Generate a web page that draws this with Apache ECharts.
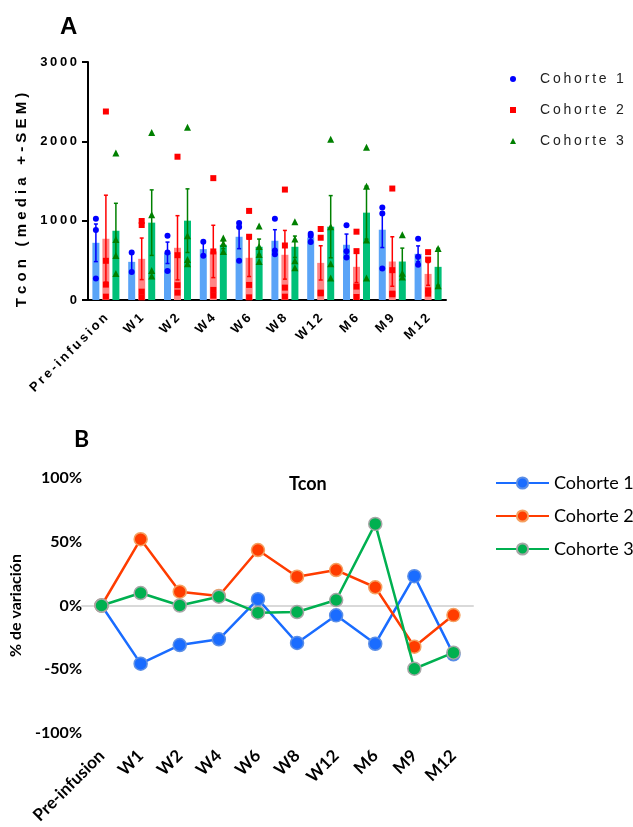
<!DOCTYPE html>
<html>
<head>
<meta charset="utf-8">
<script src="https://cdn.jsdelivr.net/npm/echarts@6/dist/echarts.min.js"></script>
<style>
  html, body { margin: 0; padding: 0; background: #fff; }
  #chartA { position: absolute; left: 0; top: 0; width: 633px; height: 410px; }
  #chartB { position: absolute; left: 0; top: 410px; width: 633px; height: 417px; }
</style>
</head>
<body>
<div id="chartA"></div>
<div id="chartB"></div>
<script>
// categorias (tiempos)
const categories = ['Pre-infusion', 'W1', 'W2', 'W4', 'W6', 'W8', 'W12', 'M6', 'M9', 'M12'];
const cohorts = ['Cohorte 1', 'Cohorte 2', 'Cohorte 3'];

// panel A: media, SEM y puntos individuales
const c1Mean = [721, 481, 595, 641, 797, 747, 789, 696, 886, 582];
const c2Mean = [772, 519, 658, 612, 532, 570, 468, 418, 485, 329];
const c3Mean = [873, 975, 1000, 696, 671, 671, 924, 1101, 485, 418];

const c1Sem = [237, 120, 135, 88, 150, 139, 32, 135, 225, 100];
const c2Sem = [549, 262, 405, 330, 236, 307, 216, 198, 312, 144];
const c3Sem = [346, 413, 401, 50, 97, 135, 392, 334, 169, 232];

const c1Pts = [[1025, 882, 270], [599, 354], [810, 599, 367], [734, 557], [970, 920, 494],
  [1025, 624, 578], [835, 810, 730], [941, 616, 536], [1165, 1089, 397], [772, 544, 443]];
const c2Pts = [[2376, 494, 194, 42], [996, 945, 105, 34], [1806, 565, 186, 93], [1536, 612, 127, 55],
  [1123, 797, 190, 34], [1392, 687, 156, 42], [895, 785, 93, 84], [861, 616, 169, 38],
  [1405, 376, 80, 72], [603, 510, 122, 80]];
const c3Pts = [[1852, 763, 561, 333], [2110, 1076, 371, 304], [2177, 810, 510, 456], [781, 713, 611],
  [933, 675, 574, 485], [987, 768, 494, 405], [2025, 924, 456, 278], [1924, 1435, 755, 278],
  [823, 338, 291], [650, 181]];

const yTicksA = [0, 1000, 2000, 3000];

// panel B: % de variación respecto a pre-infusion
const b1 = [0, -45.6, -31, -26.5, 5, -29.4, -7.7, -30, 23, -38.3];
const b2 = [0, 52, 10.8, 7.5, 43.5, 22.6, 27.8, 14.3, -32.3, -7.5];
const b3 = [0, 9.8, 0, 6.9, -5.6, -5.1, 4.3, 64, -49.6, -37];

const thin = s => s.split('').join('\u2009');
const spaced = s => s.split('').join(' ');
const fontA = '"Liberation Sans", Arial, sans-serif';
const fontB = 'Lato, "Open Sans", sans-serif';

let chartA = echarts.init(document.getElementById('chartA'));
let chartB = echarts.init(document.getElementById('chartB'));

const barColors = ['#5aa4f7', '#ff8585', '#00c078'];
const ptColors = ['#0000ff', '#ff0000', '#008000'];
const ptSymbols = ['circle', 'rect', 'triangle'];
const ptSizes = [6, 6, 7];
const offsets = [-10, 0, 10];
const means = [c1Mean, c2Mean, c3Mean];
const sems = [c1Sem, c2Sem, c3Sem];
const pts = [c1Pts, c2Pts, c3Pts];

function errRender(off, color) {
  return function(params, api) {
    const i = api.value(0);
    const x = api.coord([i, 0])[0] + off;
    const yHi = api.coord([i, api.value(2)])[1];
    const yLo = api.coord([i, api.value(1)])[1];
    const st = { stroke: color, lineWidth: 1.5 };
    return {
      type: 'group',
      children: [
        { type: 'line', shape: { x1: x, y1: yLo, x2: x, y2: yHi }, style: st },
        { type: 'line', shape: { x1: x - 2, y1: yHi, x2: x + 2, y2: yHi }, style: st },
        { type: 'line', shape: { x1: x - 2, y1: yLo, x2: x + 2, y2: yLo }, style: st }
      ]
    };
  };
}

let seriesA = [];
for (let k = 0; k < 3; k++) {
  seriesA.push({
    name: 'bar' + k,
    type: 'bar',
    barWidth: 7,
    barGap: '43%',
    itemStyle: { color: barColors[k] },
    z: 1,
    data: means[k]
  });
}
for (let k = 0; k < 3; k++) {
  seriesA.push({
    name: 'err' + k,
    type: 'custom',
    renderItem: errRender(offsets[k], ptColors[k]),
    z: 3,
    data: means[k].map((m, i) => [i, m - sems[k][i], m + sems[k][i]])
  });
}
for (let k = 0; k < 3; k++) {
  let d = [];
  pts[k].forEach((arr, i) => arr.forEach(v => d.push([i, v])));
  seriesA.push({
    name: cohorts[k],
    type: 'scatter',
    symbol: ptSymbols[k],
    symbolSize: ptSizes[k],
    symbolOffset: [offsets[k], 0],
    itemStyle: { color: ptColors[k], opacity: 1 },
    z: 4,
    data: d
  });
}

let optionA = {
  animation: false,
  title: {
    text: 'A', left: 55, top: 10,
    textStyle: { fontFamily: fontA, fontSize: 24, fontWeight: 'bold', color: '#000' }
  },
  legend: {
    orient: 'vertical', left: 505, top: 67, itemGap: 17,
    itemWidth: 6, itemHeight: 6,
    data: cohorts.map((c, k) => ({ name: c, icon: ptSymbols[k] })),
    formatter: thin,
    textStyle: { fontFamily: fontA, fontSize: 14, color: '#222', padding: [0, 0, 0, 19] }
  },
  grid: { left: 88, top: 62, width: 358, height: 238 },
  xAxis: {
    type: 'category',
    data: categories,
    axisLine: { lineStyle: { color: '#000', width: 2 } },
    axisTick: { alignWithLabel: true, length: 6, lineStyle: { color: '#000', width: 2 } },
    axisLabel: {
      rotate: 45, margin: 16, interval: 0,
      fontFamily: fontA, fontSize: 13, fontWeight: 'bold', color: '#000',
      formatter: thin
    }
  },
  yAxis: {
    type: 'value', min: 0, max: 3000, interval: 1000,
    name: spaced('Tcon (media +-SEM)'),
    nameLocation: 'middle', nameGap: 55,
    nameTextStyle: { fontFamily: fontA, fontSize: 15, fontWeight: 'bold', color: '#000', padding: [0, 38, 0, 0] },
    axisLine: { show: true, lineStyle: { color: '#000', width: 2 } },
    axisTick: { show: true, length: 6, lineStyle: { color: '#000', width: 2 } },
    splitLine: { show: false },
    axisLabel: {
      margin: 11, fontFamily: fontA, fontSize: 13, fontWeight: 'bold', color: '#000',
      formatter: v => yTicksA.indexOf(v) >= 0 ? thin(String(v)) : ''
    }
  },
  series: seriesA
};
chartA.setOption(optionA);

const lineColors = ['#1a6cff', '#ff3c00', '#00b050'];
const borderColors = ['#5b8ee6', '#f5a060', '#a6a6a6'];
const bData = [b1, b2, b3];

let optionB = {
  animation: false,
  title: [
    {
      text: 'B', left: 69, top: 13,
      textStyle: { fontFamily: fontB, fontSize: 23, fontWeight: 'bold', color: '#000' }
    },
    {
      text: 'Tcon', left: 284, top: 60,
      textStyle: { fontFamily: fontB, fontSize: 18, fontWeight: 'bold', color: '#000' }
    }
  ],
  legend: {
    orient: 'vertical', left: 490, top: 59, itemGap: 15,
    itemWidth: 53, itemHeight: 14,
    data: cohorts,
    textStyle: { fontFamily: fontB, fontSize: 18, color: '#000' }
  },
  grid: { left: 82, top: 68, width: 391, height: 255 },
  xAxis: [
    {
      type: 'category', data: categories, position: 'bottom',
      axisLine: { onZero: true, lineStyle: { color: '#d9d9d9', width: 2 } },
      axisTick: { alignWithLabel: true, inside: true, length: 5, lineStyle: { color: '#d9d9d9', width: 1.5 } },
      axisLabel: { show: false }
    },
    {
      type: 'category', data: categories, position: 'bottom',
      axisLine: { show: false, onZero: false },
      axisTick: { show: false },
      axisLabel: {
        rotate: 45, margin: 20, interval: 0,
        fontFamily: fontB, fontSize: 17, fontWeight: 'bold', color: '#000'
      }
    }
  ],
  yAxis: {
    type: 'value', min: -100, max: 100, interval: 50,
    name: '% de variación',
    nameLocation: 'middle', nameGap: 58,
    nameTextStyle: { fontFamily: fontB, fontSize: 16, fontWeight: 'bold', color: '#000' },
    axisLine: { show: false },
    axisTick: { show: false },
    splitLine: { show: false },
    axisLabel: {
      margin: 0, fontFamily: fontB, fontSize: 16, fontWeight: 'bold', color: '#000',
      formatter: v => v + '%'
    }
  },
  series: bData.map((d, k) => ({
    name: cohorts[k],
    type: 'line',
    xAxisIndex: 0,
    data: d,
    symbol: 'circle',
    symbolSize: 13,
    lineStyle: { color: lineColors[k], width: 2.5 },
    itemStyle: { color: lineColors[k], borderColor: borderColors[k], borderWidth: 1.5 },
    z: 2 + k
  }))
};
chartB.setOption(optionB);
</script>
</body>
</html>
